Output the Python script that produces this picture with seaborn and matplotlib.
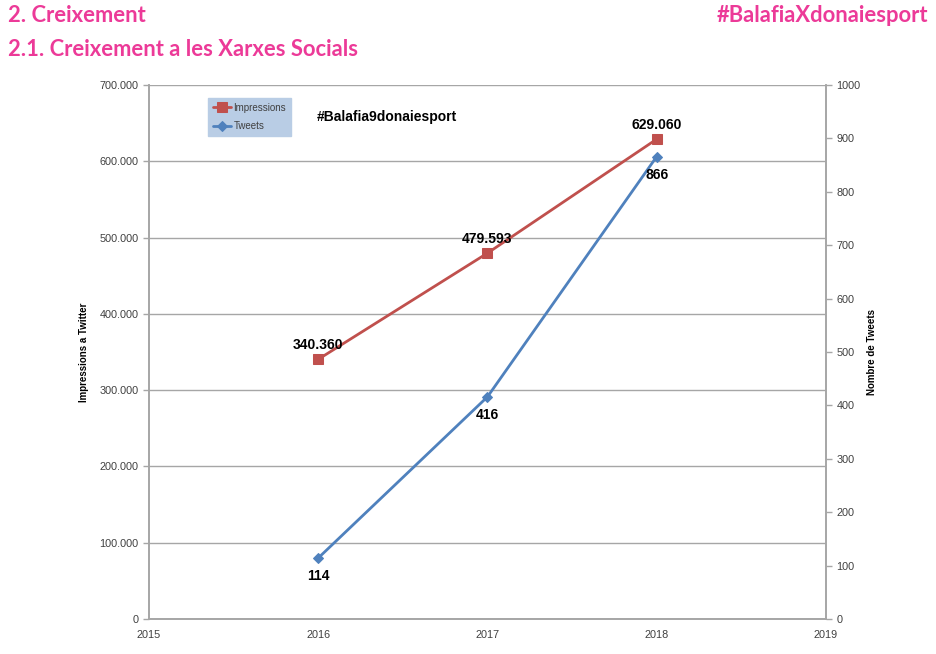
import matplotlib
matplotlib.use("Agg")
import matplotlib.pyplot as plt
import matplotlib.ticker as mticker
import seaborn as sns
import pandas as pd

# chart data
years = [2016, 2017, 2018]
impressions = [340360, 479593, 629060]
tweets = [114, 416, 866]
impr_labels = ["340.360", "479.593", "629.060"]
tweet_labels = ["114", "416", "866"]

pink = "#EC3A98"
red = "#C0504D"
blue = "#4F81BD"
grey = "#A6A6A6"

sns.set_theme(style="white")
plt.rcParams["font.family"] = ["Liberation Sans", "DejaVu Sans"]

df = pd.DataFrame({"year": years, "impressions": impressions, "tweets": tweets})

fig = plt.figure(figsize=(9.36, 6.54), dpi=100)
ax = fig.add_axes([0.159, 0.0535, 0.7235, 0.8165])
ax2 = ax.twinx()

sns.lineplot(data=df, x="year", y="impressions", ax=ax, color=red, marker="s",
             markersize=7, markeredgecolor=red, linewidth=2, label="Impressions",
             legend=False)
sns.lineplot(data=df, x="year", y="tweets", ax=ax2, color=blue, marker="D",
             markersize=5, markeredgecolor=blue, linewidth=2, label="Tweets",
             legend=False)

ax.set_xlim(2015, 2019)
ax.set_ylim(0, 700000)
ax2.set_ylim(0, 1000)
ax.set_xticks([2015, 2016, 2017, 2018, 2019])
ax.yaxis.set_major_locator(mticker.MultipleLocator(100000))
ax.yaxis.set_major_formatter(mticker.FuncFormatter(
    lambda v, p: "0" if v == 0 else f"{int(v):,}".replace(",", ".")))
ax2.yaxis.set_major_locator(mticker.MultipleLocator(100))

ax.grid(axis="y", color=grey, linewidth=1)
ax.grid(axis="x", visible=False)
ax2.grid(False)

for a in (ax, ax2):
    a.spines["top"].set_visible(False)
    for side in ("left", "right", "bottom"):
        a.spines[side].set_color(grey)
        a.spines[side].set_linewidth(1.2)
    a.tick_params(axis="both", labelsize=7.8, colors="#404040", length=4,
                  width=1, direction="out", color=grey)
ax.tick_params(axis="x", pad=4)

ax.set_xlabel("")
ax.set_ylabel("Impressions a Twitter", fontsize=7, fontweight="bold",
              color="black")
ax2.set_ylabel("Nombre de Tweets", fontsize=7, fontweight="bold",
               color="black")
ax.yaxis.set_label_coords(-0.088, 0.5)
ax2.yaxis.set_label_coords(1.06, 0.5)

for x, y, t in zip(years, impressions, impr_labels):
    ax.annotate(t, (x, y), xytext=(0, 5), textcoords="offset points",
                ha="center", va="bottom", fontsize=10, fontweight="bold",
                color="black")
for x, y, t in zip(years, tweets, tweet_labels):
    ax2.annotate(t, (x, y), xytext=(0, -8), textcoords="offset points",
                 ha="center", va="top", fontsize=10, fontweight="bold",
                 color="black")

h1, l1 = ax.get_legend_handles_labels()
h2, l2 = ax2.get_legend_handles_labels()
leg = ax2.legend(h1 + h2, l1 + l2, loc="upper left", bbox_to_anchor=(0.085, 0.98),
                 fontsize=7, frameon=True, fancybox=False, facecolor="#B9CDE5",
                 edgecolor="#B9CDE5", framealpha=1, handlelength=1.8,
                 handletextpad=0.3, borderpad=0.5, labelspacing=0.9,
                 borderaxespad=0.2)
for txt in leg.get_texts():
    txt.set_color("#404040")

ax.text(0.248, 0.94, "#Balafia9donaiesport", transform=ax.transAxes,
        fontsize=10, fontweight="bold", ha="left", va="center", color="black")

title_font = ["Lato", "DejaVu Sans"]
fig.text(0.009, 0.977, "2. Creixement", color=pink, fontsize=15.8,
         fontweight="bold", family=title_font, ha="left", va="center")
fig.text(0.009, 0.924, "2.1. Creixement a les Xarxes Socials", color=pink,
         fontsize=15.8, fontweight="bold", family=title_font,
         ha="left", va="center")
fig.text(0.992, 0.977, "#BalafiaXdonaiesport", color=pink, fontsize=15.8,
         fontweight="bold", family=title_font, ha="right", va="center")

fig.savefig("out.png", dpi=100)
